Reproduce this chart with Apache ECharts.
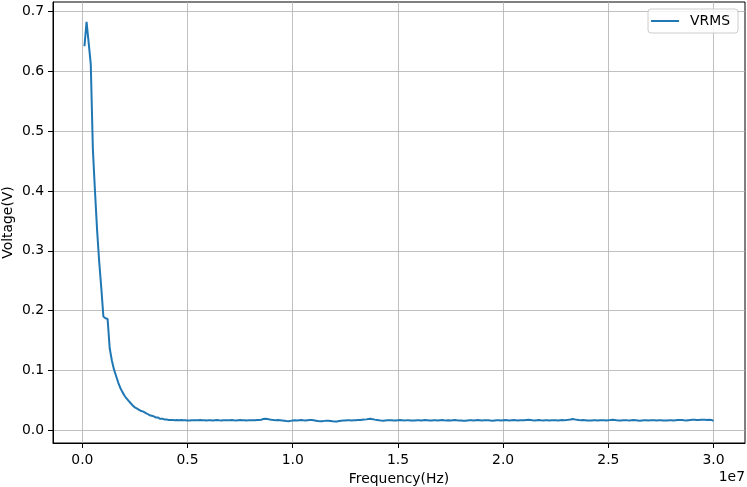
<!DOCTYPE html>
<html>
<head>
<meta charset="utf-8">
<script src="https://cdn.jsdelivr.net/npm/echarts@6/dist/echarts.min.js"></script>
<style>html,body{margin:0;padding:0;background:#fff}#c{width:747px;height:487px}</style>
</head>
<body>
<div id="c"></div>
<script>
// Frequency sweep: first sample and step in MHz (uniform sampling)
const freqStartMHz = 0.1;
const freqStepMHz = 0.1;
// VRMS values (V), one per sample
const vrms = [
  0.642,0.683,0.648,0.612,0.470,0.400,0.335,0.282,0.238,
  0.190,0.187,0.186,0.137,0.117,0.102,0.091,0.080,0.071,0.064,
  0.058,0.053,0.049,0.045,0.041,0.038,0.036,0.034,0.032,0.031,
  0.029,0.027,0.025,0.024,0.023,0.021,0.021,0.019,0.019,0.018,
  0.018,0.017,
  0.0168,0.0170,0.0167,0.0169,0.0166,0.0168,0.0165,0.0167,
  0.0163,0.0160,0.0166,0.0164,0.0167,0.0165,0.0168,0.0164,0.0166,0.0163,
  0.0167,0.0165,0.0162,0.0166,0.0168,0.0164,0.0161,0.0165,0.0167,0.0164,
  0.0166,0.0170,0.0165,0.0162,0.0166,0.0169,0.0164,0.0167,0.0163,0.0166,
  0.0164,0.0167,0.0165,0.0168,0.0171,0.0175,0.0185,0.0192,0.0188,0.0178,
  0.0172,0.0168,0.0166,0.0170,0.0167,0.0163,0.0158,0.0152,0.0150,0.0155,
  0.0160,0.0164,0.0162,0.0166,0.0169,0.0165,0.0163,0.0167,0.0171,0.0168,
  0.0164,0.0158,0.0152,0.0148,0.0150,0.0155,0.0158,0.0156,0.0152,0.0147,
  0.0144,0.0146,0.0152,0.0158,0.0162,0.0160,0.0164,0.0166,0.0163,0.0167,
  0.0165,0.0168,0.0171,0.0174,0.0176,0.0180,0.0186,0.0190,0.0184,0.0176,
  0.0170,0.0164,0.0160,0.0158,0.0162,0.0165,0.0167,0.0164,0.0160,0.0162,
  0.0166,0.0168,0.0165,0.0162,0.0164,0.0167,0.0163,0.0160,0.0163,0.0166,
  0.0164,0.0161,0.0165,0.0168,0.0164,0.0160,0.0163,0.0167,0.0165,0.0162,
  0.0166,0.0169,0.0165,0.0162,0.0165,0.0163,0.0167,0.0170,0.0166,0.0163,
  0.0160,0.0156,0.0158,0.0163,0.0166,0.0164,0.0161,0.0165,0.0168,0.0165,
  0.0162,0.0165,0.0167,0.0164,0.0160,0.0158,0.0162,0.0166,0.0164,0.0161,
  0.0165,0.0168,0.0166,0.0163,0.0167,0.0170,0.0166,0.0162,0.0165,0.0167,
  0.0164,0.0168,0.0172,0.0169,0.0165,0.0162,0.0166,0.0169,0.0165,0.0163,
  0.0166,0.0164,0.0161,0.0164,0.0167,0.0165,0.0162,0.0165,0.0168,0.0166,
  0.0168,0.0172,0.0178,0.0186,0.0180,0.0172,0.0168,0.0166,0.0169,0.0166,
  0.0163,0.0160,0.0162,0.0166,0.0164,0.0161,0.0164,0.0167,0.0165,0.0162,
  0.0165,0.0168,0.0174,0.0170,0.0166,0.0163,0.0160,0.0164,0.0167,0.0164,
  0.0162,0.0165,0.0168,0.0165,0.0162,0.0159,0.0163,0.0166,0.0164,0.0162,
  0.0165,0.0167,0.0164,0.0161,0.0164,0.0166,0.0163,0.0160,0.0163,0.0166,
  0.0164,0.0161,0.0165,0.0168,0.0170,0.0168,0.0165,0.0163,0.0166,0.0169,
  0.0172,0.0174,0.0171,0.0168,0.0172,0.0175,0.0173,0.0170,0.0174,0.0171,
  0.0156
];
const xTicks = [0, 5e6, 1e7, 1.5e7, 2e7, 2.5e7, 3e7];
const yTicks = [0, 0.1, 0.2, 0.3, 0.4, 0.5, 0.6, 0.7];
const seriesName = 'VRMS';
const xTitle = 'Frequency(Hz)';
const yTitle = 'Voltage(V)';
const xOffsetText = '1e7';

const data = vrms.map((v, i) => [(freqStartMHz + i * freqStepMHz) * 1e6, v]);

const FONT = 'DejaVu Sans';
const FS = 13.9;
const chart = echarts.init(document.getElementById('c'), null, {renderer: 'canvas'});
chart.setOption({
  animation: false,
  backgroundColor: '#ffffff',
  grid: {left: 53, right: 2, top: 2, bottom: 44, containLabel: false, outerBoundsMode: 'none',
    show: true, borderColor: '#000', borderWidth: 1, backgroundColor: 'transparent'},
  legend: {
    right: 9, top: 9,
    padding: [5, 8, 5, 3],
    itemWidth: 28, itemHeight: 14,
    backgroundColor: 'rgba(255,255,255,0.8)',
    borderColor: '#cccccc', borderWidth: 1, borderRadius: 3,
    textStyle: {fontFamily: FONT, fontSize: FS, color: '#000', padding: [0, 0, 0, 6]},
    data: [{name: seriesName, icon: 'path://M0,0 L28,0 L28,2 L0,2 Z'}]
  },
  xAxis: {
    type: 'value', min: -1.395e6, max: 3.1495e7,
    name: xTitle, nameLocation: 'middle', nameGap: 29, nameMoveOverlap: false,
    nameTextStyle: {fontFamily: FONT, fontSize: FS, color: '#000'},
    axisLine: {show: true, onZero: false, lineStyle: {color: '#000', width: 1}},
    axisTick: {show: true, inside: false, length: 5, lineStyle: {color: '#000', width: 1}, customValues: xTicks},
    axisLabel: {margin: 10, fontFamily: FONT, fontSize: FS, color: '#000', customValues: xTicks,
      formatter: v => (v / 1e7).toFixed(1)},
    splitLine: {show: true, lineStyle: {color: '#b0b0b0', width: 0.8}}
  },
  yAxis: {
    type: 'value', min: -0.0215, max: 0.716,
    name: yTitle, nameLocation: 'middle', nameGap: 38, nameRotate: 90, nameMoveOverlap: false,
    nameTextStyle: {fontFamily: FONT, fontSize: FS, color: '#000'},
    axisLine: {show: true, onZero: false, lineStyle: {color: '#000', width: 1}},
    axisTick: {show: true, inside: false, length: 5, lineStyle: {color: '#000', width: 1}, customValues: yTicks},
    axisLabel: {margin: 9, fontFamily: FONT, fontSize: FS, color: '#000', customValues: yTicks,
      formatter: v => v.toFixed(1)},
    splitLine: {show: true, lineStyle: {color: '#b0b0b0', width: 0.8}}
  },
  graphic: [{
    type: 'text', right: 2, top: 470,
    style: {text: xOffsetText, fontFamily: FONT, fontSize: FS, fill: '#000'}
  }],
  series: [{
    name: seriesName, type: 'line', data: data,
    symbol: 'none', smooth: false,
    lineStyle: {color: '#1f77b4', width: 2},
    itemStyle: {color: '#1f77b4'},
    z: 5
  }]
});
</script>
</body>
</html>
